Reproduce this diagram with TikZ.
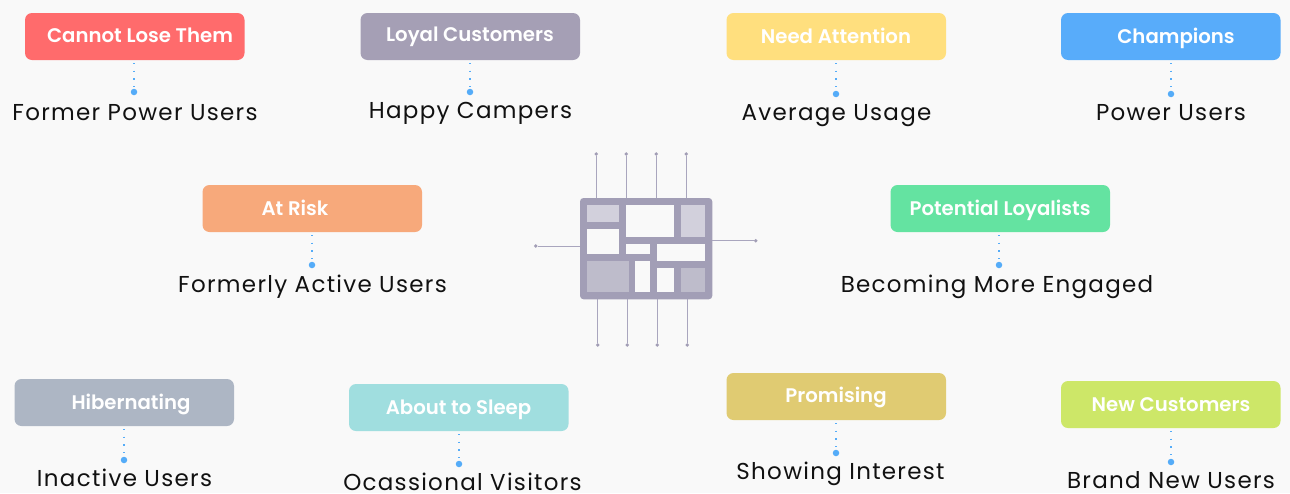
\documentclass[tikz,border=0pt]{standalone}
\usepackage{fontspec}
\setmainfont{Poppins}[BoldFont={* SemiBold}]
\definecolor{bgc}{HTML}{F9F9F9}
\definecolor{chipc}{HTML}{A29EB6}
\definecolor{pinc}{HTML}{A9A6BE}
\definecolor{lightc}{HTML}{D2D0DC}
\definecolor{midc}{HTML}{BEBCCB}
\definecolor{linkc}{HTML}{55ACF8}
\definecolor{txtc}{HTML}{111111}
\tikzset{
  x=1pt,y=-1pt,
  card/.style={rounded corners=7pt,minimum width=219.5pt,minimum height=47pt,inner sep=0pt,outer sep=0pt,fill=#1},
  cardtext/.style={text=white,font=\fontsize{19.7}{22}\selectfont\bfseries,inner sep=0pt,anchor=base},
  sub/.style={text=txtc,font=\fontsize{23}{26}\selectfont\addfontfeatures{LetterSpace=5.6},inner sep=0pt,anchor=base},
  blob/.style={circle,fill=linkc,minimum size=6.5pt,inner sep=0pt,outer sep=0pt},
  link/.style={linkc,line width=1.3pt,dash pattern=on 1.2pt off 6.5pt,dash phase=-3pt},
  pin/.style={circle,fill=chipc,minimum size=3.8pt,inner sep=0pt,outer sep=0pt},
  wire/.style={pinc,line width=1pt},
  cell/.style={fill=#1,draw=none}
}
\definecolor{c1}{HTML}{FF6B6C}
\definecolor{c2}{HTML}{A59FB5}
\definecolor{c3}{HTML}{FFDF7E}
\definecolor{c4}{HTML}{58ACFA}
\definecolor{c5}{HTML}{F7A97B}
\definecolor{c6}{HTML}{64E3A1}
\definecolor{c7}{HTML}{ADB6C4}
\definecolor{c8}{HTML}{A0DEDF}
\definecolor{c9}{HTML}{E0CB72}
\definecolor{c10}{HTML}{CDE768}
\begin{document}
\begin{tikzpicture}
\path[use as bounding box,fill=bgc] (0,0) rectangle (1290,493);
% cards
\node[card=c1,anchor=north west] (a) at (25,13) {};
\node[cardtext] (at) at (140,42.5) {Cannot Lose Them};
\node[blob] (ad) at (134,92) {};
\draw[link] (a.south -| ad) -- (ad);
\node[sub] (as) at (135,120) {Former Power Users};

\node[card=c2,anchor=north west] (b) at (360.5,13) {};
\node[cardtext] (bt) at (470,41) {Loyal Customers};
\node[blob] (bd) at (470,92) {};
\draw[link] (b.south -| bd) -- (bd);
\node[sub] (bs) at (470.5,118) {Happy Campers};

\node[card=c3,anchor=north west] (c) at (726.5,13) {};
\node[cardtext] (ct) at (836,43) {Need Attention};
\node[blob] (cd) at (836,94) {};
\draw[link] (c.south -| cd) -- (cd);
\node[sub] (cs) at (836.5,120) {Average Usage};

\node[card=c4,anchor=north west] (d) at (1061,13) {};
\node[cardtext] (dt) at (1176,43) {Champions};
\node[blob] (dd) at (1171,94) {};
\draw[link] (d.south -| dd) -- (dd);
\node[sub] (ds) at (1171,120) {Power Users};

\node[card=c5,anchor=north west] (e) at (202.5,185) {};
\node[cardtext] (et) at (295,215) {At Risk};
\node[blob] (ed) at (312,265) {};
\draw[link] (e.south -| ed) -- (ed);
\node[sub] (es) at (312.5,292) {Formerly Active Users};

\node[card=c6,anchor=north west] (f) at (890.5,185) {};
\node[cardtext] (ft) at (1000,215) {Potential Loyalists};
\node[blob] (fd) at (999,265) {};
\draw[link] (f.south -| fd) -- (fd);
\node[sub] (fs) at (997,292) {Becoming More Engaged};

\node[card=c7,anchor=north west] (g) at (14.5,379) {};
\node[cardtext] (gt) at (131,409) {Hibernating};
\node[blob] (gd) at (124,460) {};
\draw[link] (g.south -| gd) -- (gd);
\node[sub] (gs) at (124.5,486) {Inactive Users};

\node[card=c8,anchor=north west] (h) at (349,384) {};
\node[cardtext] (ht) at (458.5,414) {About to Sleep};
\node[blob] (hd) at (459,464) {};
\draw[link] (h.south -| hd) -- (hd);
\node[sub] (hs) at (462.5,490) {Ocassional Visitors};

\node[card=c9,anchor=north west] (i) at (726.5,373) {};
\node[cardtext] (it) at (836,402) {Promising};
\node[blob] (id) at (836,453) {};
\draw[link] (i.south -| id) -- (id);
\node[sub] (is) at (840.5,479) {Showing Interest};

\node[card=c10,anchor=north west] (j) at (1061,381) {};
\node[cardtext] (jt) at (1171,411) {New Customers};
\node[blob] (jd) at (1171,462) {};
\draw[link] (j.south -| jd) -- (jd);
\node[sub] (js) at (1171,488) {Brand New Users};

% chip
\node[fill=chipc,rounded corners=3.5pt,anchor=north west,minimum width=132.3pt,minimum height=101.3pt,inner sep=0pt,outer sep=0pt] (chip) at (580,198) {};
\foreach \n/\x in {t1/596.3,t2/626.3,t3/656.3,t4/686.3}{
  \node[pin] (\n) at (\x,154) {};
  \draw[wire] (\n) -- (\n |- chip.north);
}
\foreach \n/\x in {b1/597.7,b2/627.3,b3/657.3,b4/687.3}{
  \node[pin] (\n) at (\x,345) {};
  \draw[wire] (\n) -- (\n |- chip.south);
}
\node[pin] (pl) at (535.7,246) {};
\draw[wire] (pl) -- (pl -| chip.west);
\node[pin] (pr) at (755.7,240.7) {};
\draw[wire] (pr) -- (pr -| chip.east);
\fill[cell=lightc] (587.3,205) rectangle (619,222.3);
\fill[cell=bgc] (625.7,205) rectangle (674.3,236.7);
\fill[cell=lightc] (681,205) rectangle (705.3,236.7);
\fill[cell=bgc] (587.3,229.3) rectangle (619,253.7);
\fill[cell=bgc] (625.7,244) rectangle (650,253.7);
\fill[cell=bgc] (657,244) rectangle (705.3,260.7);
\fill[cell=midc] (587.3,260.7) rectangle (628.7,292.3);
\fill[cell=bgc] (635.3,260.7) rectangle (650,292.3);
\fill[cell=bgc] (657,268) rectangle (674.3,292.3);
\fill[cell=midc] (681,268) rectangle (705.3,292.3);
\end{tikzpicture}
\end{document}
